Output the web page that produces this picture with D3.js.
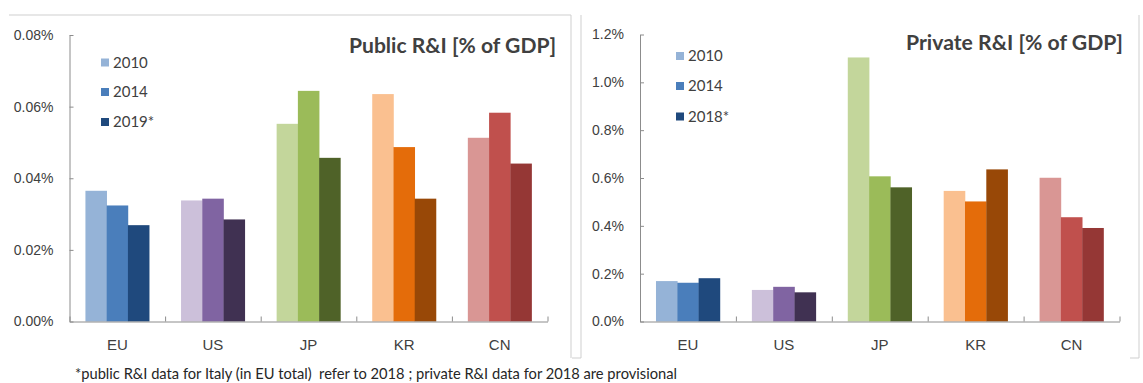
<!DOCTYPE html>
<html>
<head>
<meta charset="utf-8">
<script src="https://cdn.jsdelivr.net/npm/d3@7"></script>
<style>
    body { margin: 0; background: #fff; }
    svg { display: block; font-family: Lato, "Open Sans", sans-serif; }
    .axis path, .axis line { stroke: #8c8c8c; }
    .axis text { fill: #404040; font-size: 14px; }
    .note { white-space: pre; }
</style>
</head>
<body>
<svg id="chart" width="1143" height="383"></svg>
<script>
// Countries on the x axis
const countries = ["EU", "US", "JP", "KR", "CN"];

// Public R&I, % of GDP
const publicYears = ["2010", "2014", "2019*"];
const public2010 = [0.0365, 0.0338, 0.0552, 0.0635, 0.0513];
const public2014 = [0.0324, 0.0343, 0.0644, 0.0487, 0.0583];
const public2019 = [0.0269, 0.0285, 0.0457, 0.0343, 0.0441];
const publicTicks = [0, 0.02, 0.04, 0.06, 0.08];

// Private R&I, % of GDP
const privateYears = ["2010", "2014", "2018*"];
const private2010 = [0.169, 0.132, 1.104, 0.546, 0.601];
const private2014 = [0.162, 0.145, 0.607, 0.502, 0.436];
const private2018 = [0.181, 0.122, 0.561, 0.636, 0.391];
const privateTicks = [0, 0.2, 0.4, 0.6, 0.8, 1.0, 1.2];

// light / mid / dark shade per country
const countryColors = {
    EU: ["#95b3d7", "#4a7ebb", "#1f497d"],
    US: ["#ccc0da", "#8064a2", "#403152"],
    JP: ["#c3d69b", "#9bbb59", "#4f6228"],
    KR: ["#fac090", "#e46c0a", "#984807"],
    CN: ["#d99694", "#c0504d", "#953735"]
};

const footnote = "*public R&I data for Italy (in EU total)  refer to 2018 ; private R&I data for 2018 are provisional";

const svg = d3.select("#chart");

// panel frames (light grey lines as in the source slide)
const frames = [
    [9, 15, 571, 15], [571, 15, 571, 358],
    [581, 15, 581, 358], [572, 358, 581, 358],
    [1139, 15, 1139, 358], [1130, 358, 1139, 358]
];
svg.selectAll("line.frame")
    .data(frames)
    .enter()
    .append("line")
    .attr("class", "frame")
    .attr("x1", d => d[0]).attr("y1", d => d[1])
    .attr("x2", d => d[2]).attr("y2", d => d[3])
    .attr("stroke", "#cfcfcf")
    .attr("stroke-width", 1);

drawPanel({
    title: "Public R&I [% of GDP]",
    titleX: 556, titleY: 53, titleWidth: 207,
    years: publicYears,
    series: [public2010, public2014, public2019],
    ticks: publicTicks,
    fmt: d => d.toFixed(2) + "%",
    xRange: [69.5, 547.5],
    yRange: [321.5, 35],
    legendX: 101, legendY: [62.5, 92, 122]
});

drawPanel({
    title: "Private R&I [% of GDP]",
    titleX: 1123, titleY: 50, titleWidth: 217,
    years: privateYears,
    series: [private2010, private2014, private2018],
    ticks: privateTicks,
    fmt: d => d.toFixed(1) + "%",
    xRange: [640, 1119.5],
    yRange: [321.5, 34.5],
    legendX: 676, legendY: [56, 86, 116.5]
});

svg.append("text")
    .attr("class", "note")
    .attr("x", 75)
    .attr("y", 379)
    .attr("font-size", "15px")
    .attr("fill", "#262626")
    .attr("textLength", 602)
    .attr("lengthAdjust", "spacingAndGlyphs")
    .text(footnote);

function drawPanel(cfg) {
    const g = svg.append("g");

    const xScale = d3.scaleBand()
        .domain(countries)
        .range(cfg.xRange)
        .paddingInner(1 / 3)
        .paddingOuter(1 / 6);

    const xSub = d3.scaleBand()
        .domain(cfg.years)
        .range([0, xScale.bandwidth()]);

    const yScale = d3.scaleLinear()
        .domain([0, d3.max(cfg.ticks)])
        .range(cfg.yRange);

    // bars
    const rows = countries.map((c, i) => ({
        country: c,
        values: cfg.years.map((y, j) => ({ year: y, idx: j, value: cfg.series[j][i] }))
    }));

    g.selectAll(".group")
        .data(rows)
        .enter()
        .append("g")
        .attr("class", "group")
        .attr("transform", d => `translate(${xScale(d.country)},0)`)
        .selectAll("rect")
        .data(d => d.values.map(v => ({ ...v, country: d.country })))
        .enter()
        .append("rect")
        .attr("x", d => xSub(d.year))
        .attr("width", xSub.bandwidth() + 0.3)
        .attr("y", d => yScale(d.value))
        .attr("height", d => yScale(0) - yScale(d.value))
        .attr("fill", d => countryColors[d.country][d.idx]);

    // y axis with small inward ticks
    g.append("g")
        .attr("class", "axis")
        .attr("transform", `translate(${cfg.xRange[0]},0)`)
        .call(d3.axisLeft(yScale)
            .tickValues(cfg.ticks)
            .tickFormat(cfg.fmt)
            .tickSize(-4)
            .tickSizeOuter(0)
            .tickPadding(16));

    // x axis: labels only, boundary ticks drawn separately
    const xAxisG = g.append("g")
        .attr("class", "axis")
        .attr("transform", `translate(0,${cfg.yRange[0]})`)
        .call(d3.axisBottom(xScale).tickSize(0).tickPadding(18));
    xAxisG.select(".domain").remove();
    xAxisG.selectAll("text").attr("font-size", "15px").style("font-size", "15px");

    const edgeScale = d3.scaleLinear().domain([0, countries.length]).range(cfg.xRange);
    g.append("g")
        .attr("class", "axis")
        .attr("transform", `translate(0,${cfg.yRange[0]})`)
        .call(d3.axisTop(edgeScale)
            .tickValues(d3.range(countries.length + 1))
            .tickFormat("")
            .tickSize(5)
            .tickSizeOuter(0));

    // title
    g.append("text")
        .attr("x", cfg.titleX)
        .attr("y", cfg.titleY)
        .attr("text-anchor", "end")
        .attr("font-size", "21px")
        .attr("font-weight", "bold")
        .attr("fill", "#404040")
        .attr("textLength", cfg.titleWidth)
        .attr("lengthAdjust", "spacingAndGlyphs")
        .text(cfg.title);

    // legend (shades of blue)
    const legend = g.selectAll(".legend")
        .data(cfg.years)
        .enter()
        .append("g")
        .attr("class", "legend")
        .attr("transform", (d, i) => `translate(${cfg.legendX},${cfg.legendY[i]})`);
    legend.append("rect")
        .attr("x", 0)
        .attr("y", -4)
        .attr("width", 8)
        .attr("height", 8)
        .attr("fill", (d, i) => countryColors.EU[i]);
    legend.append("text")
        .attr("x", 12)
        .attr("y", 0)
        .attr("dy", "0.35em")
        .attr("font-size", "15px")
        .attr("fill", "#404040")
        .text(d => d);
}
</script>
</body>
</html>
